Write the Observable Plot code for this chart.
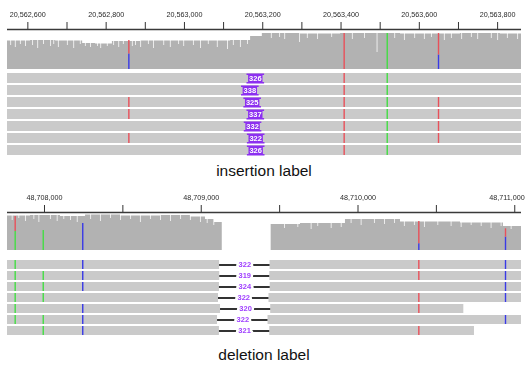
<!DOCTYPE html>
<html><head><meta charset="utf-8">
<script src="https://cdn.jsdelivr.net/npm/d3@7"></script>
<script src="https://cdn.jsdelivr.net/npm/@observablehq/plot@0.6"></script>
<style>
html,body{margin:0;padding:0;background:#fff;}
#root{position:relative;width:528px;height:367px;overflow:hidden;font-family:"Liberation Sans",Arial,sans-serif;}
.blk{position:absolute;left:0;will-change:transform;}
.cap{position:absolute;left:0;width:528px;text-align:center;font-size:15.5px;line-height:20px;height:20px;color:#111;font-family:"Liberation Sans",Arial,sans-serif;}
</style></head><body><div id="root"></div>
<script>
// ---------- shared ----------
const baseOrder = ["A", "C", "G", "T"];
const baseColors = ["#44dd44", "#3a3ae6", "#d17105", "#e8505a"];
const captions = ["insertion label", "deletion label"];

// ---------- insertion panel (top) ----------
const insView = [20562548, 20563861];
const insTicks = [20562600, 20562700, 20562800, 20562900, 20563000, 20563100, 20563200, 20563300, 20563400, 20563500, 20563600, 20563700, 20563800];
const insTickLabels = [20562600, 20562800, 20563000, 20563200, 20563400, 20563600, 20563800];
const insCoverage = [[20562548, 28.5], [20562607, 29], [20562671, 28.5], [20562740, 26], [20562773, 25.5], [20562816, 28], [20562888, 28.5], [20563041, 28.5], [20563118, 29], [20563169, 33], [20563199, 36], [20563296, 35.5], [20563399, 36], [20563552, 35.5], [20563705, 36], [20563807, 35.5], [20563861, 35.5]];
const insDips = [[20562556, 24], [20562568, 22], [20562581, 25], [20562594, 23], [20562612, 24], [20562625, 21], [20562640, 25], [20562658, 23], [20562666, 25], [20562678, 22], [20562701, 24], [20562717, 21], [20562734, 25], [20562747, 23], [20562760, 22], [20562778, 23], [20562786, 21], [20562803, 23], [20562819, 24], [20562832, 22], [20562844, 25], [20562867, 23], [20562875, 24], [20562888, 22], [20562908, 25], [20562921, 21], [20562947, 24], [20562964, 22], [20562985, 25], [20562998, 23], [20563023, 24], [20563041, 21], [20563061, 25], [20563084, 22], [20563110, 20], [20563125, 24], [20563143, 22], [20563161, 25], [20563222, 31], [20563243, 32], [20563256, 30], [20563294, 27], [20563314, 31], [20563340, 30], [20563376, 32], [20563429, 30], [20563460, 31], [20563492, 17], [20563537, 31], [20563562, 29], [20563588, 31], [20563613, 30], [20563631, 32], [20563664, 29], [20563682, 31], [20563708, 30], [20563733, 32], [20563749, 30], [20563784, 31], [20563800, 29], [20563825, 31], [20563851, 30]];
const insAlleles = [[20562858, "C", 15.5], [20562858, "T", 13.5], [20563408, "T", 36], [20563518, "A", 36], [20563649, "C", 14.5], [20563649, "T", 21.5]];
const insRows = ["r1", "r2", "r3", "r4", "r5", "r6", "r7"];
const insReadStart = [20562300, 20562300, 20562300, 20562300, 20562300, 20562300, 20562300];
const insReadEnd = [20564100, 20564100, 20564100, 20564100, 20564100, 20564100, 20564100];
const insPositions = [20563181, 20563167, 20563173, 20563181, 20563174, 20563182, 20563182];
const insLengths = [326, 338, 325, 337, 332, 322, 326];
const insReadSnvs = [[20562858, "T", [3, 4, 6]], [20563408, "T", [1, 2, 3, 4, 5, 6, 7]], [20563518, "A", [1, 2, 3, 4, 5, 6, 7]], [20563649, "T", [3, 4, 5, 6]]];

// ---------- deletion panel (bottom) ----------
const delView = [48707764, 48711043];
const delTicks = [48708000, 48708500, 48709000, 48709500, 48710000, 48710500, 48711000];
const delTickLabels = [48708000, 48709000, 48710000, 48711000];
const delCoverage = [[48707764, 34.5], [48707911, 35], [48708102, 34], [48708262, 35.5], [48708485, 34.5], [48708740, 35], [48708931, 33.5], [48709027, 31], [48709084, 28], [48709134, 0], [48709446, 26], [48709633, 27], [48709920, 31], [48710271, 28.5], [48710654, 27.5], [48710928, 24], [48711049, 24]];
const delDips = [[48707794, 30], [48707836, 32], [48707879, 29], [48707932, 31], [48707964, 28], [48708038, 31], [48708081, 29], [48708123, 31], [48708166, 30], [48708209, 28], [48708294, 31], [48708357, 29], [48708421, 32], [48708485, 30], [48708549, 31], [48708612, 28], [48708676, 31], [48708740, 30], [48708804, 29], [48708868, 31], [48708931, 30], [48708995, 28], [48709038, 27], [48709080, 25], [48709531, 22], [48709616, 23], [48709701, 21], [48709743, 24], [48709829, 22], [48709893, 23], [48709956, 27], [48710020, 25], [48710105, 27], [48710169, 26], [48710233, 27], [48710296, 24], [48710360, 25], [48710424, 23], [48710509, 25], [48710594, 24], [48710658, 23], [48710722, 25], [48710786, 24], [48710849, 22], [48710913, 24], [48710977, 21]];
const delAlleles = [[48707813, "A", 19], [48707813, "T", 15], [48707992, "A", 20], [48708244, "C", 27], [48710388, "C", 6.7], [48710388, "T", 22.3], [48710941, "C", 13.3], [48710941, "T", 8.4]];
const delRows = ["r1", "r2", "r3", "r4", "r5", "r6", "r7"];
const delReadStart = [48707500, 48707500, 48707500, 48707500, 48707500, 48707500, 48707500];
const delStarts = [48709117, 48709118, 48709116, 48709110, 48709123, 48709104, 48709116];
const delLengths = [322, 319, 324, 322, 320, 322, 321];
const delReadEnd = [48711300, 48711300, 48711300, 48711300, 48710675, 48711300, 48710743];
const delReadSnvs = [[48707813, "A", [1, 2, 3, 4, 5, 6]], [48707992, "A", [2, 3, 4, 6, 7]], [48708244, "C", [1, 2, 3, 5, 6, 7]], [48710388, "T", [1, 2, 4, 5, 7]], [48710941, "C", [1, 2, 3, 4, 6]]];

// ---------- helpers ----------
const W = 528, ML = 7, MR = 7;
const fmt = d3.format(",");
const FONT = "'Liberation Sans', Arial, sans-serif";
const purple = "#8c2ff0";
const delPurple = "#a040ff";
const colorScale = {domain: baseOrder, range: baseColors};

function stackAlleles(list) {
  const out = [];
  for (const [pos, arr] of d3.group(list, d => d[0])) {
    let acc = 0;
    arr.slice().sort((a, b) => baseOrder.indexOf(a[1]) - baseOrder.indexOf(b[1])).forEach(a => {
      out.push({pos, base: a[1], y1: acc, y2: acc + a[2]});
      acc += a[2];
    });
  }
  return out;
}
function snvTable(list, rows, readEnd) {
  return list.flatMap(([pos, base, rs]) => rs.map(r => ({pos, base, row: rows[r - 1]})))
    .filter(d => d.pos < readEnd[rows.indexOf(d.row)]);
}

function coveragePlot({view, ticks, labels, cov, dips, alleles, yMax, marginTop, height}) {
  // labels too close to the right edge are right-aligned, as a genome browser does
  const px = d3.scaleLinear(view, [ML, W - MR]);
  const inner = labels.filter(d => px(d) + 19 <= W);
  const edge = labels.filter(d => px(d) + 19 > W);
  const lab = {x: d => d, y: yMax, dy: -13, lineAnchor: "bottom", text: d => fmt(d), fontSize: 7.2, fill: "#2a2a2a"};
  return Plot.plot({
    width: W, height, marginLeft: ML, marginRight: MR, marginTop, marginBottom: 1,
    style: {fontSize: "7.2px", fontFamily: FONT, color: "#333", background: "white"},
    x: {domain: view, axis: "top", ticks, tickSize: 8, tickFormat: () => "", label: null},
    y: {domain: [0, yMax], axis: null},
    color: colorScale,
    marks: [
      Plot.areaY(cov, {x: d => d[0], y: d => d[1], curve: "step-after", fill: "#b2b2b2", clip: true}),
      Plot.ruleX(dips, {x: d => d[0], y1: d => d[1], y2: yMax, stroke: "#ffffff", strokeWidth: 0.9, strokeOpacity: 0.85, clip: true}),
      Plot.ruleX(stackAlleles(alleles), {x: "pos", y1: "y1", y2: "y2", stroke: "base", strokeWidth: 1.4}),
      Plot.ruleY([yMax], {stroke: "#3a3a3a", strokeWidth: 1.6}),
      Plot.text(inner, lab),
      Plot.text(edge, {...lab, textAnchor: "end", dx: 10})
    ]
  });
}

function readsPlot({view, rows, range, paddingInner, height, reads, snvs, extra}) {
  return Plot.plot({
    width: W, height, marginLeft: ML, marginRight: MR, marginTop: 0, marginBottom: 0,
    style: {fontFamily: FONT, background: "white"},
    x: {domain: view, axis: null},
    y: {type: "band", domain: rows, range, paddingInner, paddingOuter: 0, axis: null},
    color: colorScale,
    marks: [
      Plot.barX(reads, {x1: "start", x2: "end", y: "row", fill: "#cacaca", clip: true}),
      Plot.tickX(snvs, {x: "pos", y: "row", stroke: "base", strokeWidth: 1.4}),
      ...extra
    ]
  });
}

// I-shaped insertion box
const ibar = {
  draw(ctx) {
    const w = 8.8, h = 5, t = 1.6, i = 1.6;
    ctx.moveTo(-w, -h); ctx.lineTo(w, -h); ctx.lineTo(w, -h + t); ctx.lineTo(w - i, -h + t);
    ctx.lineTo(w - i, h - t); ctx.lineTo(w, h - t); ctx.lineTo(w, h); ctx.lineTo(-w, h);
    ctx.lineTo(-w, h - t); ctx.lineTo(-w + i, h - t); ctx.lineTo(-w + i, -h + t); ctx.lineTo(-w, -h + t);
    ctx.closePath();
  }
};

// ---------- build tables ----------
const insReads = insRows.map((row, i) => ({row, start: insReadStart[i], end: insReadEnd[i]}));
const insTable = insRows.map((row, i) => ({row, pos: insPositions[i], len: insLengths[i]}));
const insSnvs = snvTable(insReadSnvs, insRows, insReadEnd);

const delReads = delRows.flatMap((row, i) => [
  {row, start: delReadStart[i], end: delStarts[i]},
  {row, start: delStarts[i] + delLengths[i], end: delReadEnd[i]}
]);
const delTable = delRows.map((row, i) => ({row, start: delStarts[i], end: delStarts[i] + delLengths[i], len: delLengths[i], mid: delStarts[i] + delLengths[i] / 2}));
const delSnvs = snvTable(delReadSnvs, delRows, delReadEnd);

// ---------- render ----------
const root = document.getElementById("root");
function place(node, top) {
  const d = document.createElement("div");
  d.className = "blk"; d.style.top = top + "px";
  d.appendChild(node); root.appendChild(d);
}
function caption(text, top) {
  const d = document.createElement("div");
  d.className = "cap"; d.style.top = top + "px"; d.textContent = text;
  root.appendChild(d);
}

place(coveragePlot({view: insView, ticks: insTicks, labels: insTickLabels, cov: insCoverage, dips: insDips,
  alleles: insAlleles, yMax: 40, marginTop: 29, height: 70}), 0);

place(readsPlot({view: insView, rows: insRows, range: [3.3, 85.3], paddingInner: 1 / 6, height: 88,
  reads: insReads, snvs: insSnvs, extra: [
    Plot.dot(insTable, {x: "pos", y: "row", symbol: ibar, fill: purple, stroke: "none", r: 3}),
    Plot.text(insTable, {x: "pos", y: "row", text: d => String(d.len), fill: "white", fontSize: 7.5, fontWeight: "bold"})
  ]}), 70);

caption(captions[0], 161);

place(coveragePlot({view: delView, ticks: delTicks, labels: delTickLabels, cov: delCoverage, dips: delDips,
  alleles: delAlleles, yMax: 38, marginTop: 32, height: 71}), 180);

place(readsPlot({view: delView, rows: delRows, range: [5.7, 86.5], paddingInner: 0.2, height: 89,
  reads: delReads, snvs: delSnvs, extra: [
    Plot.ruleY(delTable, {x1: "start", x2: "end", y: "row", stroke: "#333", strokeWidth: 2}),
    Plot.text(delTable, {x: "mid", y: "row", text: d => String(d.len), fill: delPurple, stroke: "white", strokeWidth: 5, fontSize: 7.5, fontWeight: "bold"})
  ]}), 251);

caption(captions[1], 345);
</script></body></html>
